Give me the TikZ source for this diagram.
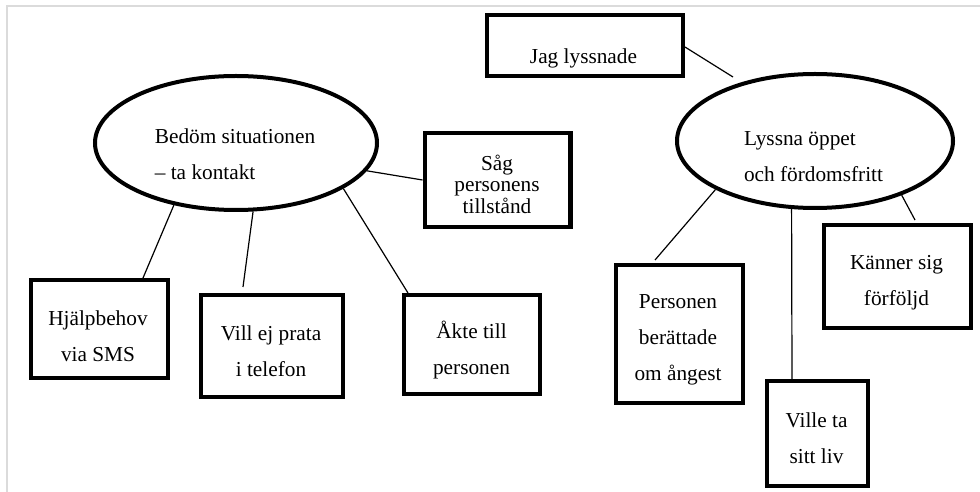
\documentclass[tikz,border=0pt]{standalone}
\usepackage{fontspec}
\setmainfont{Liberation Serif}
\usetikzlibrary{shapes.geometric,calc}
\begin{document}
\begin{tikzpicture}[x=1bp,y=-1bp,
  box/.style={draw,line width=4.2bp,inner sep=0pt},
  oval/.style={draw,ellipse,line width=4bp,inner sep=0pt},
  lbl/.style={align=center,font=\fontsize{21.3bp}{36bp}\selectfont,inner sep=0pt},
  tightlbl/.style={lbl,font=\fontsize{21.3bp}{21.5bp}\selectfont},
  conn/.style={line width=1.2bp},
  frame/.style={draw=black!14,line width=2bp}]
\useasboundingbox (0,0) rectangle (980,492);
\draw[frame] (7.3,492) -- (7.3,6.5) -- (980,6.5);

% ovals
\node[oval,minimum width=282bp,minimum height=134bp] (L) at (236,143) {};
\node[lbl,align=left] (Lt) at (235,154.7) {Bedöm situationen\\-- ta kontakt};
\node[oval,minimum width=276bp,minimum height=134bp] (R) at (815,141) {};
\node[lbl,align=left] (Rt) at (813.5,156.7) {Lyssna öppet\\och fördomsfritt};

% boxes
\node[box,minimum width=195.8bp,minimum height=60.8bp] (jag) at (585,45.5) {};
\node[lbl] (jagt) at (583.5,58) {Jag lyssnade};
\node[box,minimum width=145.8bp,minimum height=93.8bp] (sag) at (497.5,180) {};
\node[tightlbl] (sagt) at (497,184) {Såg\\personens\\tillstånd};
\node[box,minimum width=136.8bp,minimum height=97.8bp] (hjalp) at (99.5,329) {};
\node[lbl] (hjalpt) at (98,336.5) {Hjälpbehov\\via SMS};
\node[box,minimum width=141.8bp,minimum height=101.8bp] (vill) at (272,346) {};
\node[lbl] (villt) at (271,351) {Vill ej prata\\i telefon};
\node[box,minimum width=135.8bp,minimum height=98.8bp] (akte) at (472,344.5) {};
\node[lbl] (aktet) at (471.5,350) {Åkte till\\personen};
\node[box,minimum width=126.8bp,minimum height=137.8bp] (pers) at (679.5,334) {};
\node[lbl] (perst) at (678,340) {Personen\\berättade\\om ångest};
\node[box,minimum width=100.8bp,minimum height=104.8bp] (ville) at (817.5,433.5) {};
\node[lbl] (villet) at (816.5,438.3) {Ville ta\\sitt liv};
\node[box,minimum width=146.8bp,minimum height=102.8bp] (kanner) at (897.5,276.5) {};
\node[lbl] (kannert) at (896.5,282.5) {Känner sig\\förföljd};

% connectors
\draw[conn] ([yshift=-1.5bp]jag.east) -- ($(R.center)+(-82,-64)$);
\draw[conn] (L.348) -- (sag.west);
\draw[conn] (L.225) -- ([xshift=43.5bp]hjalp.north);
\draw[conn] (L.284) -- ([xshift=-29bp,yshift=6bp]vill.north);
\draw[conn] (L.337) -- ([xshift=-64bp]akte.north);
\draw[conn] (R.206) -- ([xshift=-24.5bp,yshift=3bp]pers.north);
\draw[conn] (R.251) -- ([xshift=-25.5bp]ville.north);
\draw[conn] (R.328) -- ([xshift=17.5bp,yshift=3bp]kanner.north);
\end{tikzpicture}
\end{document}
